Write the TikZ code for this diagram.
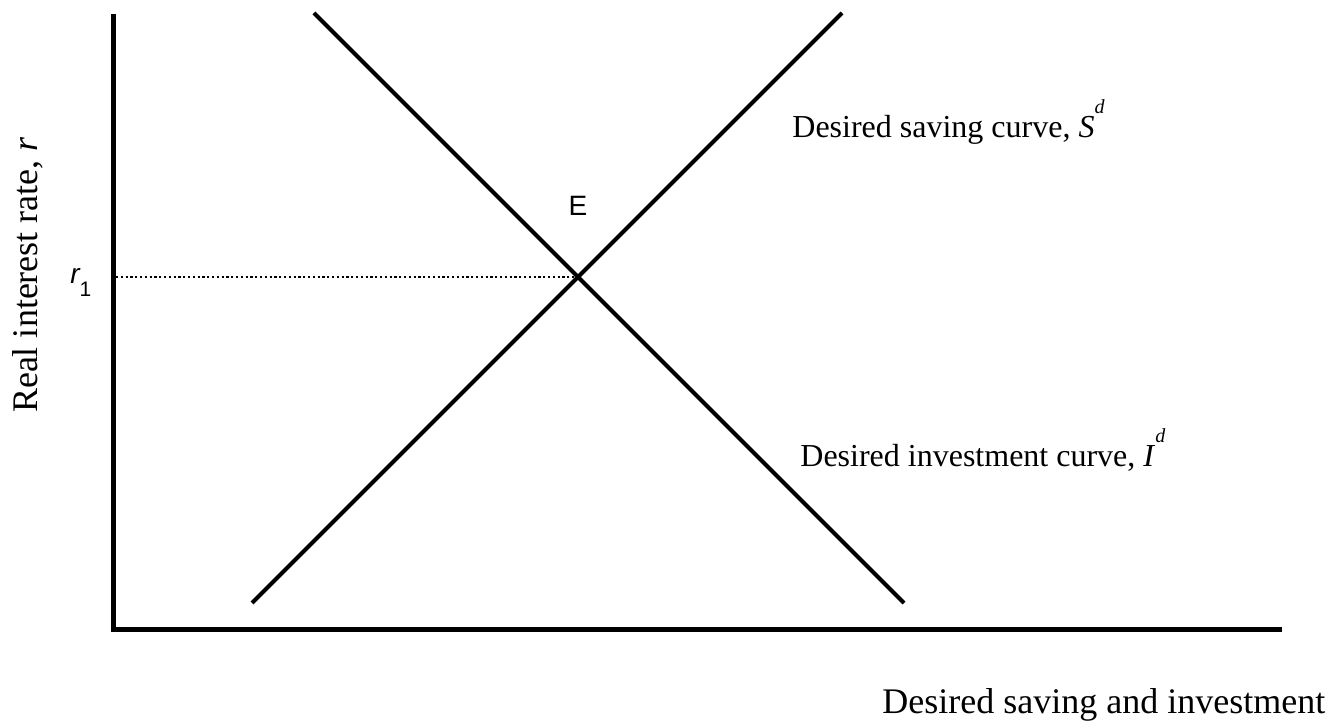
\documentclass[tikz,border=0pt]{standalone}
\usepackage{fontspec}
\setmainfont{Liberation Serif}
\newfontfamily\arialfont{Liberation Sans}
\begin{document}
\begin{tikzpicture}[x=0.5pt,y=-0.5pt,
  axis/.style={line width=2.5pt,line join=miter},
  curve/.style={line width=2pt},
  guide/.style={line width=1.1pt,dash pattern=on 1.1pt off 1.3pt},
  biglabel/.style={font=\fontsize{18pt}{20pt}\selectfont,inner sep=0pt},
  curvelabel/.style={font=\fontsize{16pt}{18pt}\selectfont,inner sep=0pt,anchor=base west},
  sanslabel/.style={font=\arialfont\fontsize{14pt}{16pt}\selectfont,inner sep=0pt}]
\useasboundingbox (0,0) rectangle (1340,721);
% axes
\coordinate (ytop) at (113,14);
\coordinate (origin) at (113,630);
\coordinate (xend) at (1282,630);
\draw[axis] (ytop) -- (origin) -- (xend);
% curves
\coordinate (s0) at (252,603);
\coordinate (s1) at (842,13);
\coordinate (i0) at (314,13);
\coordinate (i1) at (904,603);
\draw[curve] (s0) -- (s1);
\draw[curve] (i0) -- (i1);
\coordinate (eq) at (578,277);
\coordinate (ry) at (116,277);
\draw[guide] (ry) -- (eq);
% labels
\node[sanslabel] (E) at (578,206) {E};
\node[sanslabel,anchor=base west] (r1) at (70,284) {\itshape r\raisebox{-0.45em}{\fontsize{10.5pt}{12pt}\selectfont\upshape 1}};
\node[curvelabel] (slab) at (792,138) {Desired saving curve, \textit{S}\raisebox{0.75em}{\fontsize{10pt}{12pt}\selectfont\itshape d}};
\node[curvelabel] (ilab) at (800,467) {Desired investment curve, \textit{I}\raisebox{0.75em}{\fontsize{10pt}{12pt}\selectfont\itshape d}};
\node[biglabel,anchor=base west] (xlab) at (882,713) {Desired saving and investment};
\node[biglabel,anchor=base,rotate=90] (ylab) at (37,275) {Real interest rate, \textit{r}};
\end{tikzpicture}
\end{document}
